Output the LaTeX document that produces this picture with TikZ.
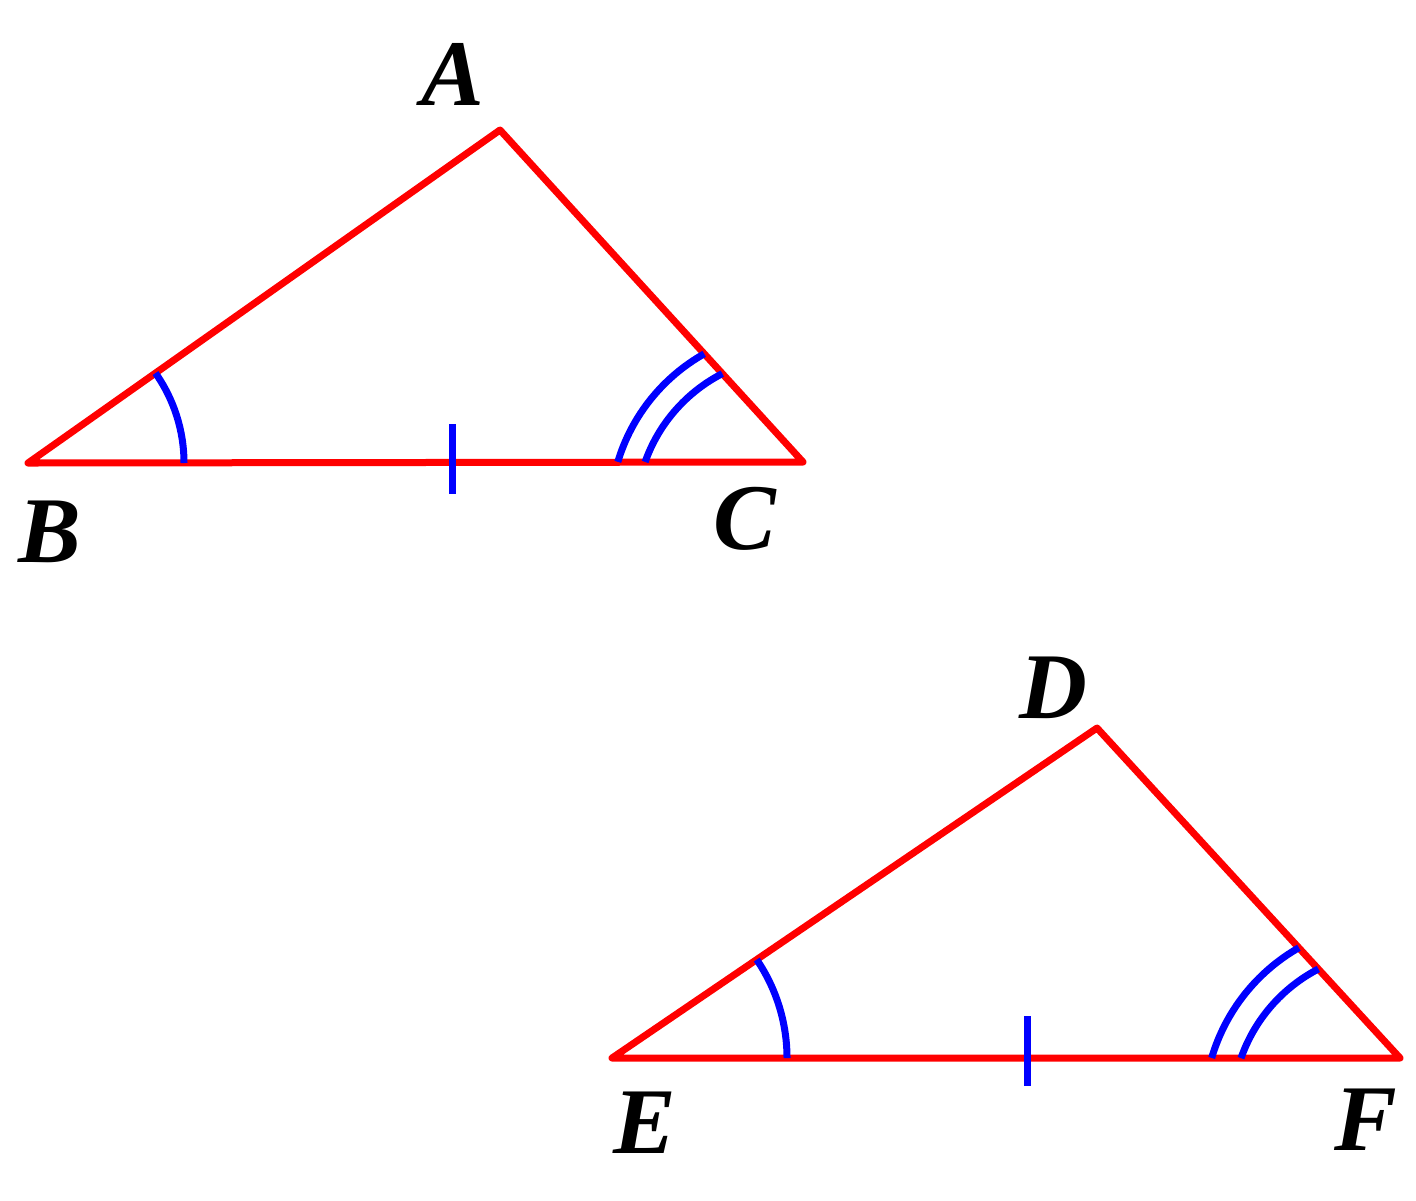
\documentclass[tikz,border=0pt]{standalone}
\usepackage{fontspec}
\setmainfont{Liberation Serif}
\begin{document}
\begin{tikzpicture}[x=0.5pt,y=-0.5pt,
  side/.style={draw=red,line width=3.5pt,line join=round,line cap=round},
  anglemark/.style={draw=blue,line width=3.5pt},
  lbl/.style={font=\fontsize{47}{50}\selectfont\bfseries\itshape,inner sep=0pt,anchor=base}]
\useasboundingbox (0,0) rectangle (1416,1200);
% first triangle
\coordinate (A) at (500,130);
\coordinate (B) at (28,463);
\coordinate (C) at (803,462);
\coordinate (cC) at (795,515);
\draw[side] (A) -- (B) -- (C) -- cycle;
\draw[anglemark] ([shift={(0:156)}]B) arc[start angle=0,end angle=-35.2,radius=156];
\draw[anglemark] ([shift={(-163.3:185)}]cC) arc[start angle=-163.3,end angle=-119.4,radius=185];
\draw[anglemark] ([shift={(-160.5:159)}]cC) arc[start angle=-160.5,end angle=-117.2,radius=159];
\coordinate (t1a) at (452,424);
\coordinate (t1b) at (452,494);
\draw[anglemark] (t1a) -- (t1b);
\node[lbl] (lA) at (453,105) {A};
\node[lbl] (lB) at (50,562) {B};
\node[lbl] (lC) at (745,549) {C};
% second triangle
\coordinate (D) at (1097,728);
\coordinate (E) at (612,1058);
\coordinate (F) at (1400,1058);
\coordinate (cF) at (1392,1111);
\draw[side] (D) -- (E) -- (F) -- cycle;
\draw[anglemark] ([shift={(0:175)}]E) arc[start angle=0,end angle=-34.2,radius=175];
\draw[anglemark] ([shift={(-163.6:188)}]cF) arc[start angle=-163.6,end angle=-119.7,radius=188];
\draw[anglemark] ([shift={(-160.7:160)}]cF) arc[start angle=-160.7,end angle=-117.4,radius=160];
\coordinate (t2a) at (1027,1016);
\coordinate (t2b) at (1027,1086);
\draw[anglemark] (t2a) -- (t2b);
\node[lbl] (lD) at (1053,718) {D};
\node[lbl] (lE) at (645,1153) {E};
\node[lbl] (lF) at (1366,1150) {F};
\end{tikzpicture}
\end{document}
